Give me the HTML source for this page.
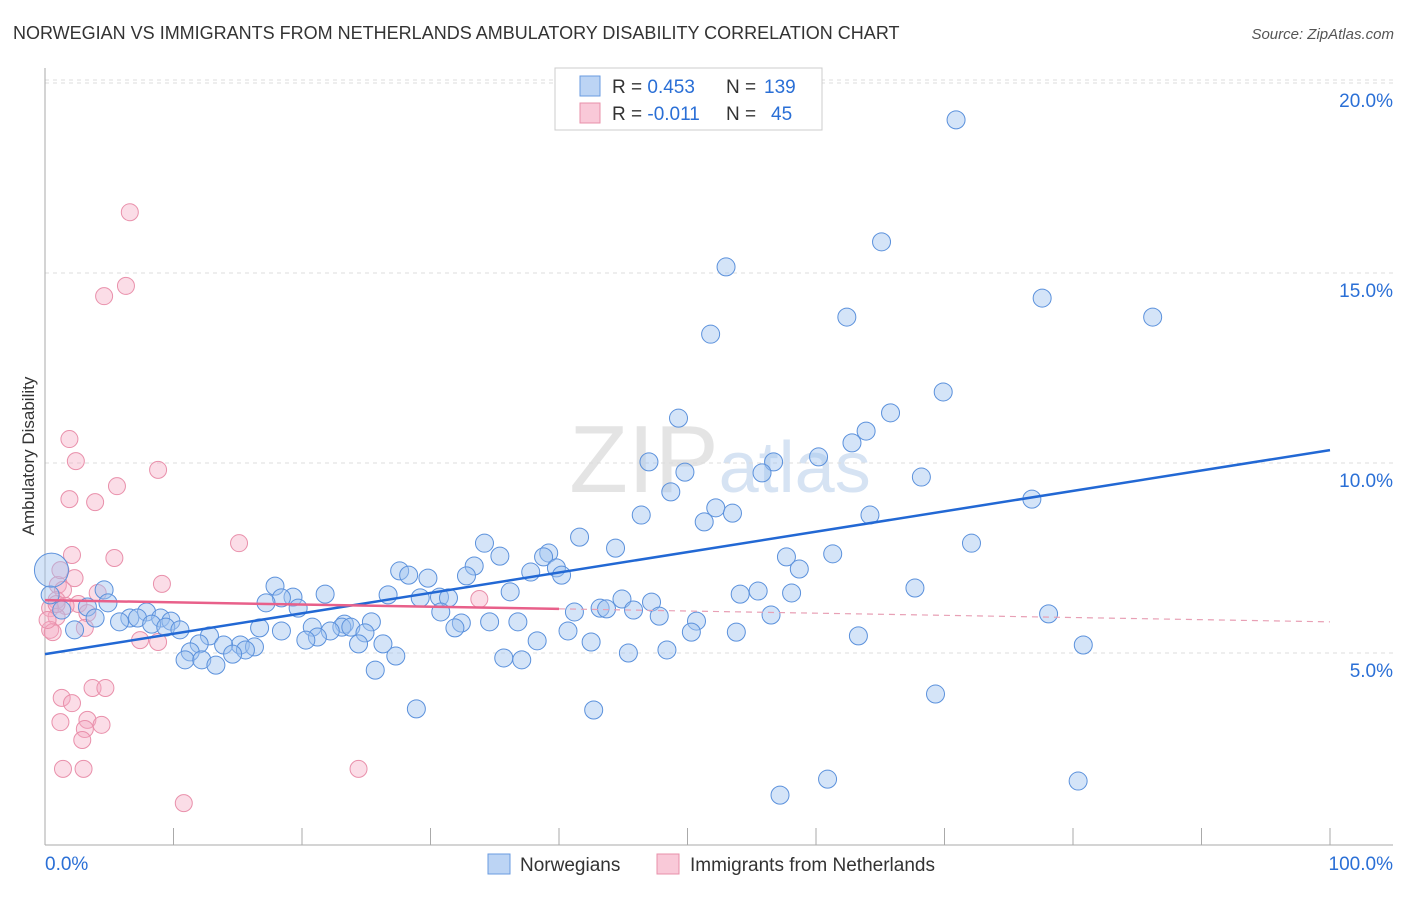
<!DOCTYPE html>
<html><head><meta charset="utf-8">
<style>
body{margin:0;background:#fff;font-family:"Liberation Sans",sans-serif;}
svg text{font-family:"Liberation Sans",sans-serif;}
</style></head>
<body>
<svg id="chart" width="1406" height="892" xmlns="http://www.w3.org/2000/svg">
<text x="13" y="39" font-size="18" fill="#333">NORWEGIAN VS IMMIGRANTS FROM NETHERLANDS AMBULATORY DISABILITY CORRELATION CHART</text>
<text x="1394" y="39" font-size="15" fill="#555" text-anchor="end" font-style="italic">Source: ZipAtlas.com</text>
<text transform="translate(34,456) rotate(-90)" font-size="17" fill="#333" text-anchor="middle">Ambulatory Disability</text>
<text x="720" y="492" font-size="96" fill="#e4e4e4" text-anchor="middle" font-family="Liberation Serif">ZIP<tspan fill="#d6e3f3" font-family="Liberation Sans" font-size="72">atlas</tspan></text>
<g id="grid"></g>
<g id="pts"></g>
<g id="trend"></g>
<g>
<rect x="555" y="68" width="267" height="62" fill="#fff" stroke="#ccc"/>
<rect x="580" y="76" width="20" height="20" fill="#bcd4f4" stroke="#6a9be0"/>
<rect x="580" y="103" width="20" height="20" fill="#f9c9d8" stroke="#e890aa"/>
<text x="612" y="93" font-size="19" fill="#333">R = <tspan fill="#2a6fd6">0.453</tspan><tspan x="726">N = </tspan><tspan fill="#2a6fd6" x="764">139</tspan></text>
<text x="612" y="120" font-size="19" fill="#333">R = <tspan fill="#2a6fd6">-0.011</tspan><tspan x="726">N = </tspan><tspan fill="#2a6fd6" x="771">45</tspan></text>
</g>
<g>
<rect x="488" y="854" width="22" height="20" fill="#bcd4f4" stroke="#6a9be0"/>
<text x="520" y="871" font-size="19" fill="#333">Norwegians</text>
<rect x="657" y="854" width="22" height="20" fill="#f9c9d8" stroke="#e890aa"/>
<text x="690" y="871" font-size="19" fill="#333">Immigrants from Netherlands</text>
</g>
</svg>
<script>
const blueX=[70.9,65.1,53.0,77.6,86.2,62.4,51.8,69.9,65.8,49.3,63.9,62.8,60.2,56.7,47.0,55.8,49.8,68.2,48.7,76.8,52.2,53.5,64.2,46.4,51.3,41.6,72.1,34.2,44.4,39.2,61.3,35.4,38.8,57.7,33.4,39.8,27.6,28.3,58.7,37.8,40.2,32.8,29.8,17.9,67.7,55.5,4.6,58.1,54.1,21.8,26.7,36.2,30.7,19.3,31.4,29.2,44.9,18.4,47.2,17.2,4.9,19.7,43.2,43.7,45.8,30.8,41.2,3.3,78.1,7.9,56.5,47.8,6.6,9.0,7.2,9.8,3.9,5.8,8.3,25.4,32.4,34.6,36.8,50.7,23.3,20.8,9.4,23.1,23.8,10.5,31.9,16.7,18.4,24.9,22.2,40.7,53.8,50.3,2.3,12.8,63.3,21.2,20.3,38.3,42.5,24.4,26.3,15.2,12.0,13.9,80.8,16.3,15.6,11.3,14.6,45.4,48.4,27.3,10.9,12.2,35.7,37.1,13.3,25.7,69.3,28.9,42.7,60.9,80.4,57.2,1.3,0.4,0.5];
const blueY=[19.03,15.82,15.16,14.34,13.84,13.84,13.39,11.87,11.32,11.18,10.84,10.53,10.16,10.03,10.03,9.74,9.76,9.63,9.24,9.05,8.82,8.68,8.63,8.63,8.45,8.05,7.89,7.89,7.76,7.63,7.61,7.55,7.53,7.53,7.29,7.24,7.16,7.05,7.21,7.13,7.05,7.03,6.97,6.76,6.71,6.63,6.66,6.58,6.55,6.55,6.53,6.61,6.47,6.47,6.45,6.45,6.42,6.45,6.34,6.32,6.32,6.18,6.18,6.16,6.13,6.08,6.08,6.21,6.03,6.08,6.0,5.97,5.92,5.92,5.92,5.84,5.92,5.82,5.76,5.82,5.79,5.82,5.82,5.84,5.76,5.68,5.68,5.68,5.68,5.61,5.66,5.66,5.58,5.53,5.58,5.58,5.55,5.55,5.61,5.45,5.45,5.42,5.34,5.32,5.29,5.24,5.24,5.21,5.24,5.21,5.21,5.16,5.08,5.03,4.97,5.0,5.08,4.92,4.82,4.82,4.87,4.82,4.68,4.55,3.92,3.53,3.5,1.68,1.63,1.26,6.13,6.53,7.18];
const pinkX=[6.6,6.3,4.6,1.9,2.4,8.8,5.6,1.9,3.9,15.1,2.1,5.4,2.3,9.1,1.0,1.4,4.1,0.9,2.6,1.6,0.4,3.3,0.9,3.1,0.4,0.6,7.4,8.8,33.8,3.7,4.7,1.3,2.1,1.2,3.3,4.4,3.1,2.9,1.4,3.0,24.4,10.8,0.9,0.2,1.2];
const pinkY=[16.6,14.66,14.39,10.63,10.05,9.82,9.39,9.05,8.97,7.89,7.58,7.5,6.97,6.82,6.79,6.66,6.58,6.39,6.29,6.24,6.18,6.05,5.95,5.66,5.61,5.55,5.34,5.29,6.42,4.08,4.08,3.82,3.68,3.18,3.24,3.11,3.0,2.71,1.95,1.95,1.95,1.05,6.29,5.87,7.18];
const yTicks=[5,10,15,20];
const yTickLabels=["5.0%","10.0%","15.0%","20.0%"];
const blueTrend=[4.97,10.34];
const pinkTrend=[6.39,5.82];
const pinkSolidEnd=40;

const X0=45,X1=1330,Y0=843,PX=38;
const sx=v=>X0+(X1-X0)*v/100;
const sy=v=>Y0-PX*v;
const NS="http://www.w3.org/2000/svg";
function mk(tag,attrs,parent){const e=document.createElementNS(NS,tag);for(const k in attrs)e.setAttribute(k,attrs[k]);parent.appendChild(e);return e;}
const gridG=document.getElementById('grid');
yTicks.forEach((t,i)=>{
  const l=mk('line',{x1:45,x2:1393,y1:sy(t),y2:sy(t),stroke:'#ddd','stroke-dasharray':'4,4'},gridG);
  
  
  const tx=mk('text',{x:1393,y:sy(t)+24,'font-size':19,fill:'#2a6fd6','text-anchor':'end'},gridG);
  tx.textContent=yTickLabels[i];
  
  
});
const topLine=mk('line',{x1:45,x2:1393,y1:sy(20)-3,y2:sy(20)-3,stroke:'#ddd','stroke-dasharray':'4,4'},gridG);


const yAxisLine=mk('line',{x1:45,x2:45,y1:68,y2:845,stroke:'#aaa'},gridG);


const xAxisLine=mk('line',{x1:45,x2:1393,y1:845,y2:845,stroke:'#aaa'},gridG);


for(let i=0;i<=10;i++){
  const t=mk('line',{x1:sx(i*10),x2:sx(i*10),y1:828,y2:845,stroke:'#aaa'},gridG);
  
  
}
const xMinLabel=mk('text',{x:45,y:870,'font-size':19,fill:'#2a6fd6'},gridG);xMinLabel.textContent='0.0%';


const xMaxLabel=mk('text',{x:1393,y:870,'font-size':19,fill:'#2a6fd6','text-anchor':'end'},gridG);xMaxLabel.textContent='100.0%';



const ptsG=document.getElementById('pts');
pinkX.forEach((x,i)=>{
  const c=mk('circle',{cx:sx(x),cy:sy(pinkY[i]),r:8.5,fill:'rgba(246,170,195,0.4)',stroke:'#e990ab','stroke-width':1},ptsG);
  
  
});
blueX.forEach((x,i)=>{
  const big=i===blueX.length-1;
  const c=mk('circle',{cx:sx(x),cy:sy(blueY[i]),r:big?17:9,fill:'rgba(160,195,240,0.45)',stroke:'#5b91dc','stroke-width':1},ptsG);
  
  
});
const trendG=document.getElementById('trend');
const blueLine=mk('line',{x1:sx(0),y1:sy(blueTrend[0]),x2:sx(100),y2:sy(blueTrend[1]),stroke:'#2268d4','stroke-width':2.5},trendG);


const pv=x=>pinkTrend[0]+(pinkTrend[1]-pinkTrend[0])*x/100;
const pinkSolid=mk('line',{x1:sx(0),y1:sy(pv(0)),x2:sx(pinkSolidEnd),y2:sy(pv(pinkSolidEnd)),stroke:'#e8608a','stroke-width':2.5},trendG);


const pinkDash=mk('line',{x1:sx(pinkSolidEnd),y1:sy(pv(pinkSolidEnd)),x2:sx(100),y2:sy(pv(100)),stroke:'#e8a0b5','stroke-width':1.2,'stroke-dasharray':'6,5'},trendG);


</script>
</body></html>
